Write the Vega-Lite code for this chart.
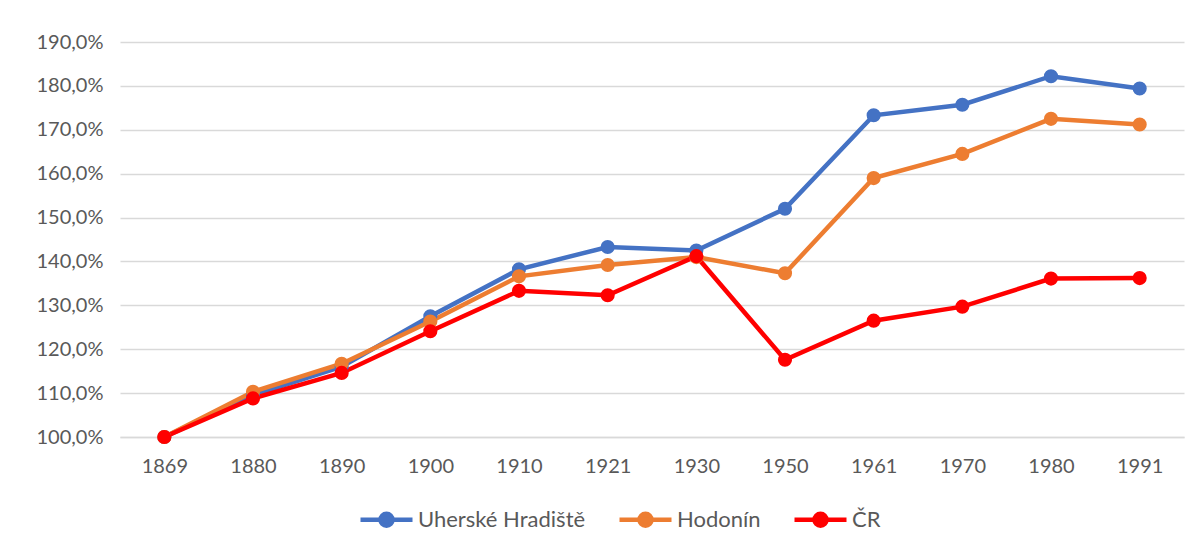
{
  "$schema": "https://vega.github.io/schema/vega-lite/v6.json",
  "autosize": {"type": "none"},
  "padding": {"left": 120, "top": 42, "right": 19, "bottom": 112},
  "width": 1064,
  "height": 395,
  "background": "white",
  "config": {
    "view": {"stroke": null},
    "font": "Lato"
  },
  "data": {
    "values": [
      {"rok": "1869", "region": "Uherské Hradiště", "hodnota": 1.000},
      {"rok": "1880", "region": "Uherské Hradiště", "hodnota": 1.095},
      {"rok": "1890", "region": "Uherské Hradiště", "hodnota": 1.160},
      {"rok": "1900", "region": "Uherské Hradiště", "hodnota": 1.275},
      {"rok": "1910", "region": "Uherské Hradiště", "hodnota": 1.382},
      {"rok": "1921", "region": "Uherské Hradiště", "hodnota": 1.433},
      {"rok": "1930", "region": "Uherské Hradiště", "hodnota": 1.425},
      {"rok": "1950", "region": "Uherské Hradiště", "hodnota": 1.520},
      {"rok": "1961", "region": "Uherské Hradiště", "hodnota": 1.733},
      {"rok": "1970", "region": "Uherské Hradiště", "hodnota": 1.757},
      {"rok": "1980", "region": "Uherské Hradiště", "hodnota": 1.822},
      {"rok": "1991", "region": "Uherské Hradiště", "hodnota": 1.794},
      {"rok": "1869", "region": "Hodonín", "hodnota": 1.000},
      {"rok": "1880", "region": "Hodonín", "hodnota": 1.103},
      {"rok": "1890", "region": "Hodonín", "hodnota": 1.167},
      {"rok": "1900", "region": "Hodonín", "hodnota": 1.263},
      {"rok": "1910", "region": "Hodonín", "hodnota": 1.366},
      {"rok": "1921", "region": "Hodonín", "hodnota": 1.392},
      {"rok": "1930", "region": "Hodonín", "hodnota": 1.410},
      {"rok": "1950", "region": "Hodonín", "hodnota": 1.373},
      {"rok": "1961", "region": "Hodonín", "hodnota": 1.590},
      {"rok": "1970", "region": "Hodonín", "hodnota": 1.645},
      {"rok": "1980", "region": "Hodonín", "hodnota": 1.725},
      {"rok": "1991", "region": "Hodonín", "hodnota": 1.712},
      {"rok": "1869", "region": "ČR", "hodnota": 1.000},
      {"rok": "1880", "region": "ČR", "hodnota": 1.088},
      {"rok": "1890", "region": "ČR", "hodnota": 1.146},
      {"rok": "1900", "region": "ČR", "hodnota": 1.241},
      {"rok": "1910", "region": "ČR", "hodnota": 1.333},
      {"rok": "1921", "region": "ČR", "hodnota": 1.323},
      {"rok": "1930", "region": "ČR", "hodnota": 1.412},
      {"rok": "1950", "region": "ČR", "hodnota": 1.176},
      {"rok": "1961", "region": "ČR", "hodnota": 1.265},
      {"rok": "1970", "region": "ČR", "hodnota": 1.297},
      {"rok": "1980", "region": "ČR", "hodnota": 1.361},
      {"rok": "1991", "region": "ČR", "hodnota": 1.362}
    ]
  },
  "mark": {"type": "line", "strokeWidth": 4.5, "point": {"size": 200, "filled": true, "opacity": 1}},
  "encoding": {
    "x": {
      "field": "rok", "type": "ordinal", "title": null,
      "scale": {"type": "point", "padding": 0.5},
      "axis": {"labelAngle": 0, "ticks": false, "domainColor": "#d9d9d9", "domainWidth": 1.5, "labelPadding": 19, "grid": false,
        "labelFont": "Lato", "labelFontSize": 20, "labelColor": "#595959"}
    },
    "y": {
      "field": "hodnota", "type": "quantitative", "title": null,
      "scale": {"domain": [1.0, 1.9], "nice": false, "zero": false},
      "axis": {
        "values": [1.0, 1.1, 1.2, 1.3, 1.4, 1.5, 1.6, 1.7, 1.8, 1.9],
        "labelExpr": "replace(format(datum.value, '.1%'), '.', ',')",
        "domain": false, "ticks": false, "gridColor": "#d9d9d9", "gridWidth": 1.3, "labelPadding": 17,
        "labelFont": "Lato", "labelFontSize": 20, "labelColor": "#595959"
      }
    },
    "color": {
      "field": "region", "type": "nominal", "title": null,
      "sort": ["Uherské Hradiště", "Hodonín", "ČR"],
      "scale": {"domain": ["Uherské Hradiště", "Hodonín", "ČR"], "range": ["#4472C4", "#ED7D31", "#FF0000"]},
      "legend": {
        "orient": "none", "direction": "horizontal", "legendX": 238, "legendY": 449,
        "symbolType": "M -1 0 L 1 0 M 0.23 0 A 0.23 0.23 0 1 1 -0.23 0 A 0.23 0.23 0 1 1 0.23 0 Z",
        "symbolSize": 2704, "symbolStrokeWidth": 4.5, "symbolOpacity": 1,
        "labelFont": "Lato", "labelFontSize": 22, "labelColor": "#595959", "labelOffset": 3,
        "labelLimit": 400, "columnPadding": 24
      }
    },
    "order": {"field": "rok"}
  }
}
